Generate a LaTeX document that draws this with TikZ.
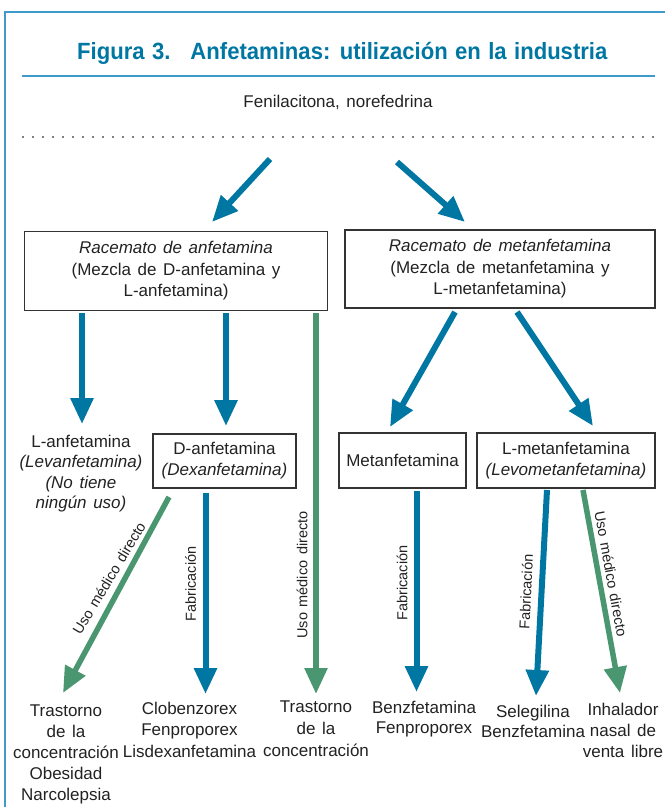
\documentclass[tikz,border=0pt]{standalone}
\usepackage{fontspec}
\setmainfont[WordSpace=1.4]{Liberation Sans}
\newfontfamily\titlefont[FakeStretch=0.94,WordSpace=1.2]{Liberation Sans Bold}
\usetikzlibrary{arrows.meta}
\definecolor{myblue}{HTML}{0076A3}
\definecolor{mygreen}{HTML}{4A9670}
\definecolor{framecol}{HTML}{3E9BCB}
\definecolor{textcol}{HTML}{222222}
\tikzset{
  body/.style={font=\fontsize{17}{21}\selectfont, text=textcol, align=center, inner sep=0pt},
  boxnode/.style={body, draw=black!80, line width=1.2pt},
  lbl/.style={font=\fontsize{14.5}{16}\selectfont, text=textcol, inner sep=0pt},
  barrow/.style={draw=myblue, line width=6pt, -{Triangle[length=26pt,width=22pt]}},
  garrow/.style={draw=mygreen, line width=5.5pt, -{Triangle[length=26pt,width=22pt]}},
}
\begin{document}
\begin{tikzpicture}[x=1pt,y=-1pt]
\useasboundingbox (0,0) rectangle (665,807);
% frame
\draw[framecol, line width=1.2pt] (5,807) -- (5,12) -- (665,12);
\node[anchor=base west, inner sep=0pt, text=myblue, font=\fontsize{23.5}{26}\titlefont] (title) at (77,59)
  {Figura 3.\hspace{20pt}Anfetaminas: utilización en la industria};
\draw[framecol, line width=1.8pt] (22,76) -- (655,76);
\node[body, anchor=base] (fen) at (338,107) {Fenilacitona,\ norefedrina};
\draw[gray, line width=1.6pt, dash pattern=on 1.6pt off 8.4pt] (22,137) -- (655,137);

% boxes
\node[boxnode, minimum width=303pt, minimum height=79pt, font=\fontsize{17}{21.5}\selectfont] (rac1) at (176,271)
  {\textit{Racemato de anfetamina}\\(Mezcla de D-anfetamina y\\L-anfetamina)};
\node[boxnode, minimum width=310pt, minimum height=78pt, font=\fontsize{17}{21.5}\selectfont] (rac2) at (500,269)
  {\textit{Racemato de metanfetamina}\\(Mezcla de metanfetamina y\\L-metanfetamina)};
\node[boxnode, minimum width=143pt, minimum height=54pt] (danf) at (224.5,461)
  {D-anfetamina\\\textit{(Dexanfetamina)}};
\node[boxnode, minimum width=127pt, minimum height=55pt] (met) at (402.5,460.5)
  {Metanfetamina};
\node[boxnode, minimum width=178pt, minimum height=55pt] (lmet) at (566,460.5)
  {L-metanfetamina\\\textit{(Levometanfetamina)}};
\node[body, anchor=north, font=\fontsize{17}{20.5}\selectfont] (lanf) at (81,434.5)
  {L-anfetamina\\\textit{(Levanfetamina)}\\\textit{(No tiene}\\\textit{ningún uso)}};

% bottom texts
\node[body, anchor=north] (t1) at (66,704.5) {Trastorno\\de la\\concentración\\Obesidad\\Narcolepsia};
\node[body, anchor=north, font=\fontsize{17}{21.5}\selectfont] (t2) at (189.5,701.5) {Clobenzorex\\Fenproporex\\Lisdexanfetamina};
\node[body, anchor=north, font=\fontsize{17}{22}\selectfont] (t3) at (316,700.5) {Trastorno\\de la\\concentración};
\node[body, anchor=north, font=\fontsize{17}{20}\selectfont] (t4) at (424,700.5) {Benzfetamina\\Fenproporex};
\node[body, anchor=north, font=\fontsize{17}{20}\selectfont] (t5) at (533,704.5) {Selegilina\\Benzfetamina};
\node[body, anchor=north] (t6) at (623,702.5) {Inhalador\\nasal de\\venta libre};

% coordinates for connector ends
\coordinate (fs1) at (270,159);  \coordinate (fe1) at (212,222);
\coordinate (fs2) at (397,162);  \coordinate (fe2) at (465,222);
\coordinate (a1s) at (82,313);   \coordinate (a1e) at (82,424);
\coordinate (a2s) at (226,313);  \coordinate (a2e) at (226,426);
\coordinate (a3s) at (316,313);  \coordinate (a3e) at (316,694);
\coordinate (b1s) at (455,312);  \coordinate (b1e) at (390,427);
\coordinate (b2s) at (517,312);  \coordinate (b2e) at (593,426);
\coordinate (c1s) at (169,497);  \coordinate (c1e) at (63,693);
\coordinate (c2s) at (205.5,493);\coordinate (c2e) at (205.5,694);
\coordinate (d1s) at (416.5,491);\coordinate (d1e) at (416.5,692);
\coordinate (d2s) at (547,490);  \coordinate (d2e) at (536,696);
\coordinate (d3s) at (583,490);  \coordinate (d3e) at (620,693);

\draw[barrow] (fs1) -- (fe1);
\draw[barrow] (fs2) -- (fe2);
\draw[barrow] (a1s) -- (a1e);
\draw[barrow] (a2s) -- (a2e);
\draw[garrow] (a3s) -- (a3e);
\draw[barrow] (b1s) -- (b1e);
\draw[barrow] (b2s) -- (b2e);
\draw[garrow] (c1s) -- (c1e);
\draw[barrow] (c2s) -- (c2e);
\draw[barrow] (d1s) -- (d1e);
\draw[barrow] (d2s) -- (d2e);
\draw[garrow] (d3s) -- (d3e);

% labels
\node[lbl, rotate=59] (l1) at (109,578) {Uso médico directo};
\node[lbl, rotate=90] (l2) at (190.5,584) {Fabricación};
\node[lbl, rotate=90] (l3) at (302,575) {Uso médico directo};
\node[lbl, rotate=90] (l4) at (402,583) {Fabricación};
\node[lbl, rotate=87.2] (l5) at (526,592) {Fabricación};
\node[lbl, rotate=-79.7] (l6) at (611,574) {Uso médico directo};
\end{tikzpicture}
\end{document}
